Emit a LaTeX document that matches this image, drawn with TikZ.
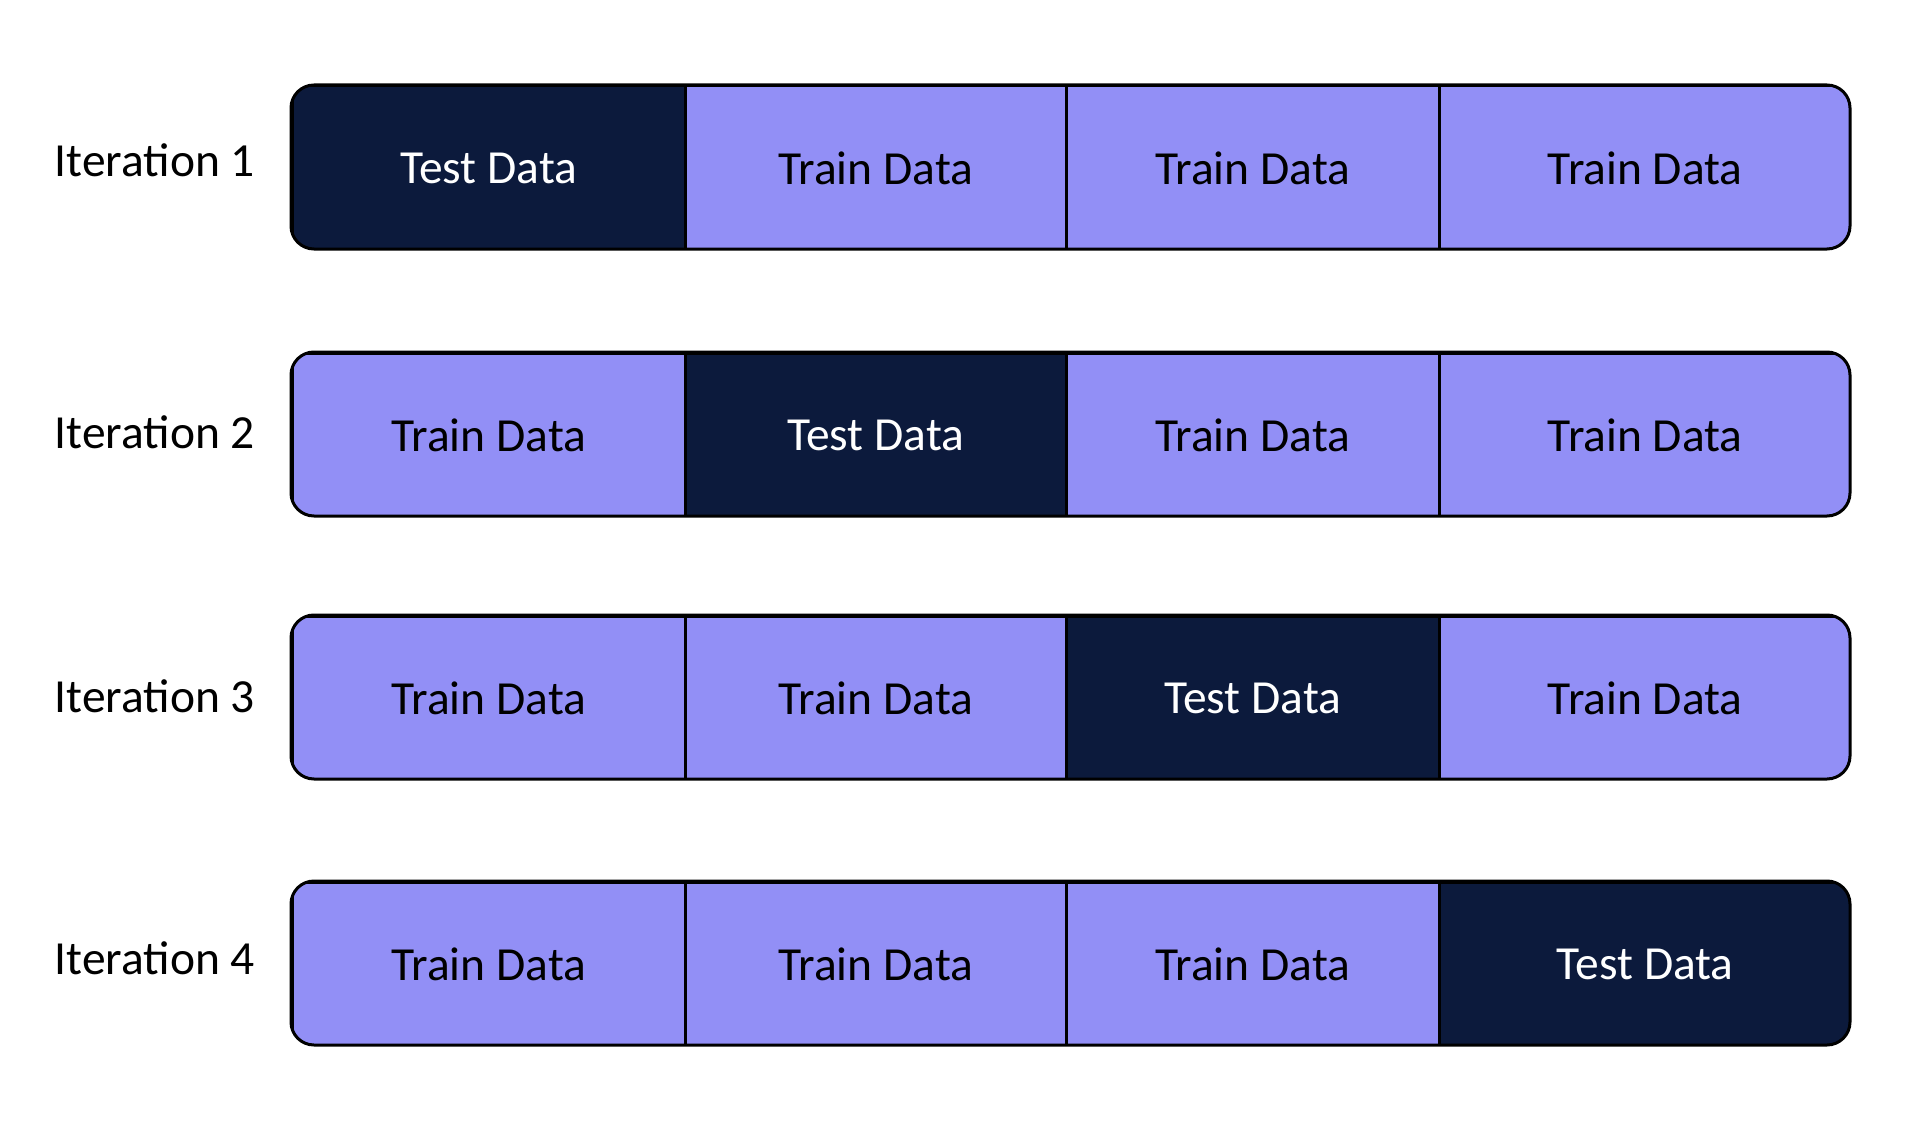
\documentclass[tikz,border=0pt]{standalone}
\usepackage{fontspec}
\setmainfont{Carlito}
\definecolor{testc}{HTML}{0C1A3C}
\definecolor{trainc}{HTML}{928FF6}
\tikzset{
  cell/.style={rectangle, inner sep=0pt, minimum height=164pt, draw=black, line width=2.5pt, font=\fontsize{47.5}{52}\selectfont},
  traincell/.style={cell, fill=trainc, text=black},
  testcell/.style={cell, fill=testc, text=white},
  iterlabel/.style={font=\fontsize{47.5}{52}\selectfont, text=black, inner sep=0pt},
  outerbox/.style={draw=black, line width=3pt, rounded corners=23pt}
}
\begin{document}
\begin{tikzpicture}[x=1pt,y=-1pt]
\useasboundingbox[fill=white] (0,0) rectangle (1931,1129);
\foreach \r/\top/\ly in {1/85/160, 2/352/432, 3/615/696, 4/881/958} {
  \begin{scope}
    \clip[rounded corners=23pt] (291,\top) rectangle (1850,\top+164);
    \foreach \c/\l/\rr in {1/291/684, 2/684/1065, 3/1065/1438, 4/1438/1850} {
      \ifnum\c=\r
        \node[testcell, minimum width={\rr-\l}, anchor=north west] (r\r c\c) at (\l,\top) {Test Data};
      \else
        \node[traincell, minimum width={\rr-\l}, anchor=north west] (r\r c\c) at (\l,\top) {Train Data};
      \fi
    }
  \end{scope}
  \draw[outerbox] (291,\top) rectangle (1850,\top+164);
  \node[iterlabel] (it\r) at (155,\ly) {Iteration \r};
}
\end{tikzpicture}
\end{document}
